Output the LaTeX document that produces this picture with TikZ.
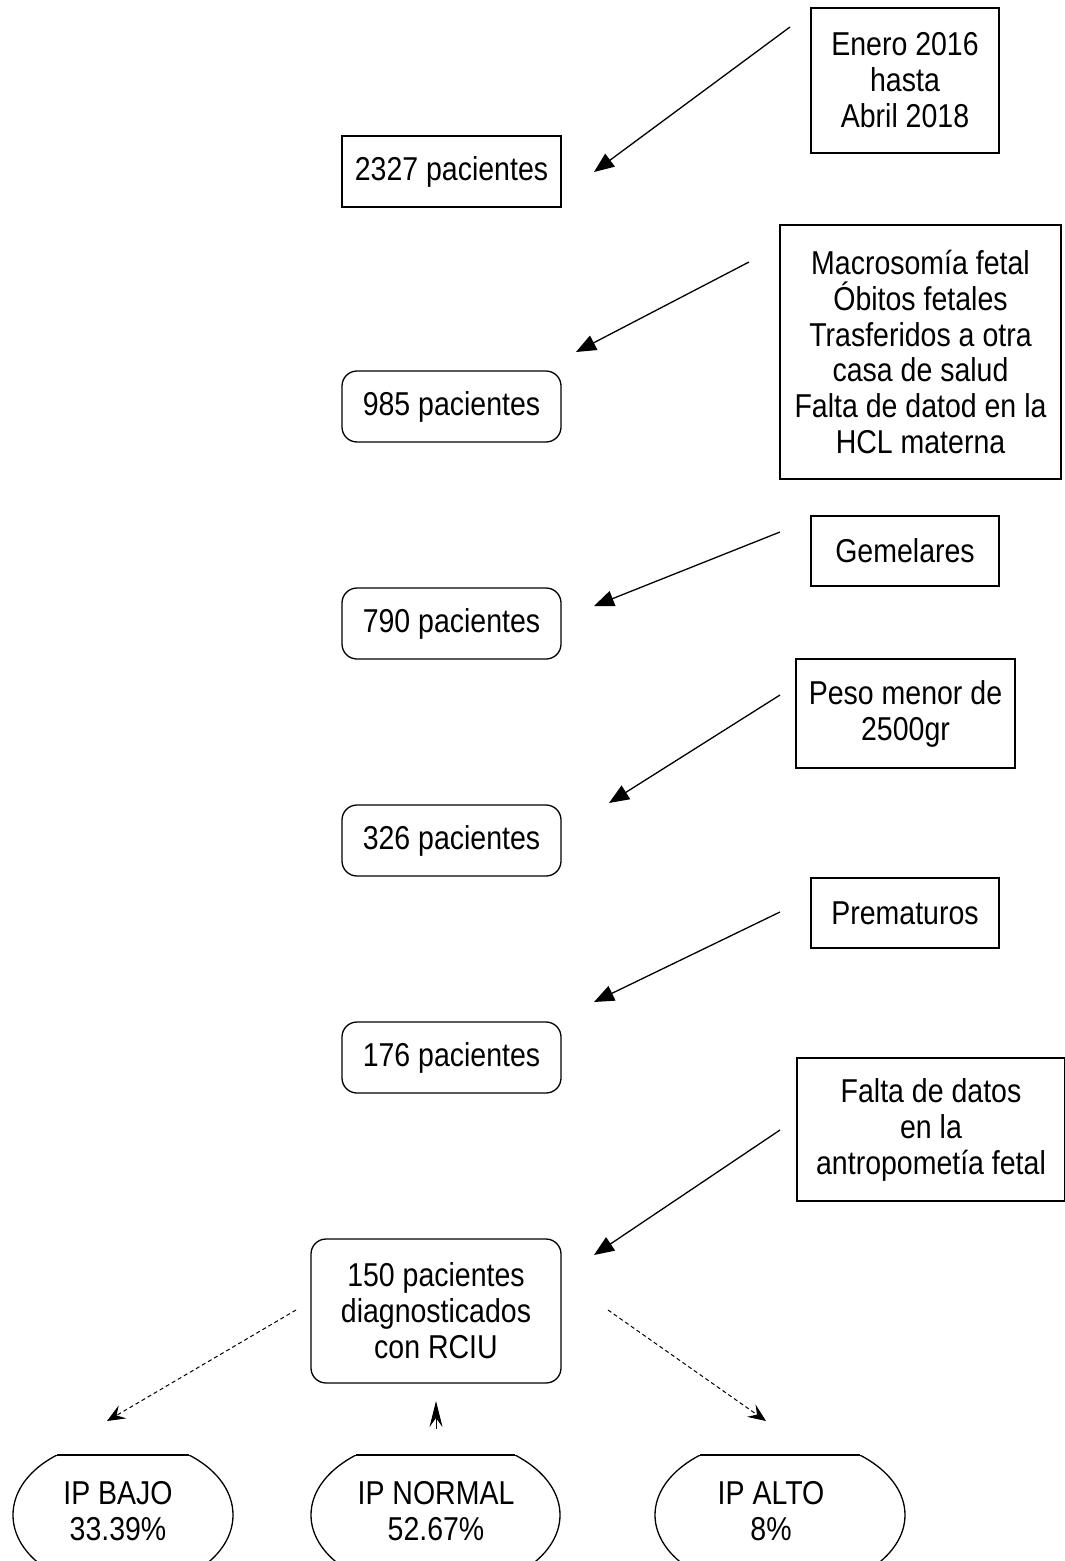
\documentclass[tikz,border=0pt]{standalone}
\usepackage{fontspec}
\setmainfont{Liberation Sans}
\usetikzlibrary{arrows.meta}
\begin{document}
\begin{tikzpicture}[x=1pt,y=-1pt,
  every node/.style={font=\fontsize{28.5}{31}\selectfont, align=center, inner sep=0pt, transform shape, yscale=1.16},
  sqbox/.style={draw, line width=1.3pt, rectangle},
  rdbox/.style={draw, line width=1.3pt, rectangle, rounded corners=15pt},
  solidarrow/.style={line width=1.3pt, -{Triangle[length=20pt,width=16pt]}},
  dasharrow/.style={line width=1pt, dash pattern=on 4pt off 3pt, -{Stealth[length=18pt,width=15pt,inset=7pt]}},
  ovalline/.style={line width=1.3pt}]
\useasboundingbox (0,0) rectangle (1065,1561);
% node positions
\coordinate (cenero) at (905,80.5);
\coordinate (cmacro) at (920.5,352);
\coordinate (cgem) at (905,551);
\coordinate (cpeso) at (905.5,713.5);
\coordinate (cprem) at (905,913);
\coordinate (cfalta) at (931,1129.5);
\coordinate (c2327) at (451.5,171.5);
\coordinate (c985) at (451.5,406.5);
\coordinate (c790) at (451.5,623.5);
\coordinate (c326) at (451.5,840.5);
\coordinate (c176) at (451.5,1057.5);
\coordinate (c150) at (436,1311);
\coordinate (cbajo) at (118,1511);
\coordinate (cnormal) at (436,1511);
\coordinate (calto) at (771,1511);
% side boxes (heights divided by the vertical text scale 1.16)
\node[sqbox, minimum width=188pt, minimum height=125pt] (enero) at (cenero) {Enero 2016\\hasta\\ Abril 2018};
\node[sqbox, minimum width=281pt, minimum height=219pt] (macro) at (cmacro) {Macrosomía fetal\\Óbitos fetales\\Trasferidos a otra\\casa de salud\\Falta de datod en la\\HCL materna};
\node[sqbox, minimum width=188pt, minimum height=60.3pt] (gem) at (cgem) {Gemelares};
\node[sqbox, minimum width=219pt, minimum height=94pt] (peso) at (cpeso) {Peso menor de\\2500gr};
\node[sqbox, minimum width=188pt, minimum height=60.3pt] (prem) at (cprem) {Prematuros};
\node[sqbox, minimum width=268pt, minimum height=123.3pt] (falta) at (cfalta) {Falta de datos\\en la\\antropometía fetal};
% main boxes
\node[sqbox, minimum width=219pt, minimum height=61.2pt] (p2327) at (c2327) {2327 pacientes};
\node[rdbox, minimum width=219pt, minimum height=61.2pt] (p985) at (c985) {985 pacientes};
\node[rdbox, minimum width=219pt, minimum height=61.2pt] (p790) at (c790) {790 pacientes};
\node[rdbox, minimum width=219pt, minimum height=61.2pt] (p326) at (c326) {326 pacientes};
\node[rdbox, minimum width=219pt, minimum height=61.2pt] (p176) at (c176) {176 pacientes};
\node[rdbox, minimum width=250pt, minimum height=124.1pt] (p150) at (c150) {150 pacientes\\diagnosticados\\ con RCIU};
% arrow coordinates
\coordinate (a1s) at (790,27);   \coordinate (a1e) at (594,172);
\coordinate (a2s) at (749,262);  \coordinate (a2e) at (576,352);
\coordinate (a3s) at (780,532);  \coordinate (a3e) at (594,606);
\coordinate (a4s) at (780,695);  \coordinate (a4e) at (609,803);
\coordinate (a5s) at (780,912);  \coordinate (a5e) at (594,1002);
\coordinate (a6s) at (780,1130); \coordinate (a6e) at (594,1255);
\draw[solidarrow] (a1s) -- (a1e);
\draw[solidarrow] (a2s) -- (a2e);
\draw[solidarrow] (a3s) -- (a3e);
\draw[solidarrow] (a4s) -- (a4e);
\draw[solidarrow] (a5s) -- (a5e);
\draw[solidarrow] (a6s) -- (a6e);
\coordinate (d1s) at (296,1310); \coordinate (d1e) at (107,1421);
\coordinate (d2s) at (608,1310); \coordinate (d2e) at (766,1421);
\coordinate (d3s) at (436,1429); \coordinate (d3e) at (436,1401);
\draw[dasharrow] (d1s) -- (d1e);
\draw[dasharrow] (d2s) -- (d2e);
\draw[line width=1pt, -{Stealth[length=26pt,width=13pt,inset=9pt]}] (d3s) -- (d3e);
% bottom ovals: centre x / x radius / y radius / half chord at the flat top
\foreach \cx/\rx/\ry/\hc in {123/110/75/66, 435.5/124.5/78/79.6, 780/125/78/80}{
  \begin{scope}
    \clip (\cx-140,1455) rectangle (\cx+140,1575);
    \draw[ovalline] (\cx,1515) ellipse [x radius=\rx pt, y radius=\ry pt];
  \end{scope}
  \draw[ovalline] (\cx-\hc,1455) -- (\cx+\hc,1455);
}
\node (ipbajo) at (cbajo) {IP BAJO\\33.39\%};
\node (ipnormal) at (cnormal) {IP NORMAL\\52.67\%};
\node (ipalto) at (calto) {IP ALTO\\8\%};
\end{tikzpicture}
\end{document}
